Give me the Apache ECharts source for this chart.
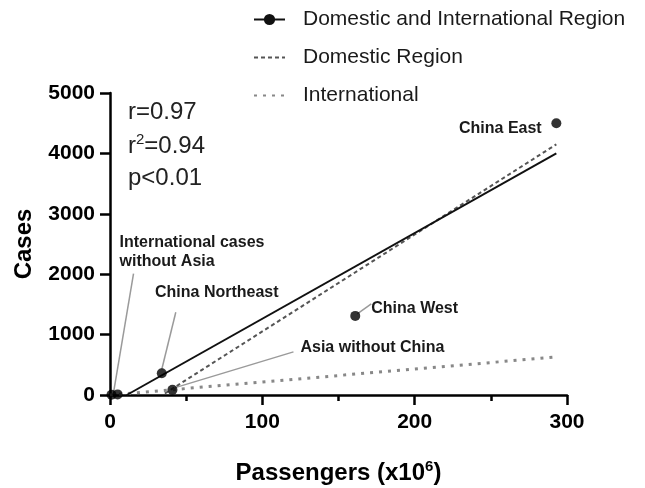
<!DOCTYPE html>
<html><head><meta charset="utf-8">
<script src="https://cdn.jsdelivr.net/npm/echarts@6/dist/echarts.min.js"></script>
<style>html,body{margin:0;background:#fff}#c{width:645px;height:488px}</style></head>
<body><div id="c"></div><script>
// ---- data ----
const xAxisRange=[0,300]; const xStep=100;
const yAxisRange=[0,5000]; const yStep=1000;
const pointNames=['International cases without Asia','International cases without Asia (2)','Asia without China','China Northeast','China West','China East'];
const pointX=[1,5,41,34,161,293];
const pointY=[5,10,85,360,1310,4500];
const allFitX=[11,293]; const allFitY=[0,4000];
const domFitX=[36,293]; const domFitY=[25,4150];
const intFitX=[0,293]; const intFitY=[0,630];
const seriesNames=['Domestic and International Region','Domestic Region','International'];
const statR='0.97', statR2='0.94', statP='0.01';

// ---- layout (pixels relative to each labelled point) ----
const FONT='"Liberation Sans", Arial, Helvetica, sans-serif';
const labelLayout=[
  {idx:5,text:'China East',dx:-56,dy:5,align:'center',leader:null},
  {idx:4,text:'China West',dx:16,dy:-7,align:'left',leader:[2,-2,16,-12]},
  {idx:2,text:'Asia without China',dx:128,dy:-42,align:'left',leader:[2,-2,121,-38]},
  {idx:3,text:'China Northeast',dx:55,dy:-81,align:'center',leader:[0,-4,14,-61]},
  {idx:0,text:'International cases\nwithout Asia',dx:8,dy:-143,align:'left',leader:[2,-2,22,-121]}
];
const pairs=(xs,ys)=>xs.map((x,i)=>[x,ys[i]]);

const chart=echarts.init(document.getElementById('c'),null,{renderer:'canvas'});
const axisCommon={
  axisLine:{lineStyle:{color:'#000',width:2.5}},
  axisTick:{length:10,lineStyle:{color:'#000',width:2.5}},
  splitLine:{show:false},
  axisLabel:{color:'#000',fontWeight:'bold',fontSize:21,fontFamily:FONT,formatter:v=>String(v)},
  nameTextStyle:{color:'#000',fontWeight:'bold',fontSize:24,fontFamily:FONT}
};
chart.setOption({
  animation:false,
  backgroundColor:'#fff',
  grid:{left:110,right:78,top:93,bottom:93,containLabel:false,outerBoundsMode:'none'},
  legend:{
    orient:'vertical',left:248,top:4,itemWidth:31,itemHeight:14,itemGap:17,
    textStyle:{fontSize:21,color:'#1a1a1a',fontFamily:FONT,padding:[0,0,0,13]},
    data:[
      {name:seriesNames[0]},
      {name:seriesNames[1],itemStyle:{opacity:0}},
      {name:seriesNames[2],itemStyle:{opacity:0}}
    ]
  },
  xAxis:Object.assign({},axisCommon,{
    type:'value',min:xAxisRange[0],max:xAxisRange[1],interval:xStep,
    minorTick:{show:true,splitNumber:2,length:6,lineStyle:{color:'#000',width:2.5}},
    axisLabel:Object.assign({},axisCommon.axisLabel,{margin:17}),
    name:'{t|Passengers (x10}{s|6}{t|)}',nameLocation:'middle',nameGap:64,
    nameTextStyle:{rich:{
      t:{fontSize:24,fontWeight:'bold',fontFamily:FONT,color:'#000',lineHeight:28},
      s:{fontSize:15,fontWeight:'bold',fontFamily:FONT,color:'#000',verticalAlign:'top',lineHeight:28,padding:[0,0,12,0]}
    }}
  }),
  yAxis:Object.assign({},axisCommon,{
    type:'value',min:yAxisRange[0],max:yAxisRange[1],interval:yStep,
    axisLabel:Object.assign({},axisCommon.axisLabel,{margin:15}),
    name:'Cases',nameLocation:'middle',nameGap:74,nameRotate:90
  }),
  series:[
    {name:seriesNames[0],type:'line',data:pairs(allFitX,allFitY),showSymbol:false,symbol:'circle',symbolSize:8,
     itemStyle:{color:'#111'},lineStyle:{color:'#111',width:2},z:3},
    {name:seriesNames[1],type:'line',data:pairs(domFitX,domFitY),symbol:'none',
     itemStyle:{color:'#555'},lineStyle:{color:'#555',width:2,type:[4,3]},z:2},
    {name:seriesNames[2],type:'line',data:pairs(intFitX,intFitY),symbol:'none',
     itemStyle:{color:'#888'},lineStyle:{color:'#888',width:3,type:[3,6]},z:2},
    {name:'points',type:'scatter',data:pairs(pointX,pointY),symbolSize:10,itemStyle:{color:'#000'},z:5}
  ]
});

function place(){
  const els=[];
  labelLayout.forEach(l=>{
    const p=chart.convertToPixel({xAxisIndex:0,yAxisIndex:0},[pointX[l.idx],pointY[l.idx]]);
    if(l.leader){
      els.push({type:'line',z:1,shape:{x1:p[0]+l.leader[0],y1:p[1]+l.leader[1],x2:p[0]+l.leader[2],y2:p[1]+l.leader[3]},
        style:{stroke:'#9a9a9a',lineWidth:1.5}});
    }
    els.push({type:'text',z:10,x:p[0]+l.dx,y:p[1]+l.dy,style:{text:l.text,align:l.align,verticalAlign:'middle',
      fontSize:16,fontWeight:'bold',fontFamily:FONT,fill:'#1a1a1a',lineHeight:19}});
  });
  const g=chart.getModel().getComponent('grid').coordinateSystem.getRect();
  const sx=g.x+18, sy=g.y;
  const stFont={fontSize:24,fontFamily:FONT,fill:'#222'};
  els.push({type:'text',x:sx,y:sy+19,style:Object.assign({text:'r='+statR,verticalAlign:'middle'},stFont)});
  els.push({type:'text',x:sx,y:sy+53,style:{text:'{a|r}{b|2}{a|='+statR2+'}',verticalAlign:'middle',
    rich:{a:{fontSize:24,fontFamily:FONT,fill:'#222',color:'#222',lineHeight:28},
          b:{fontSize:15,fontFamily:FONT,fill:'#222',color:'#222',verticalAlign:'top',lineHeight:28,padding:[0,0,12,0]}}}});
  els.push({type:'text',x:sx,y:sy+85,style:Object.assign({text:'p<'+statP,verticalAlign:'middle'},stFont)});
  chart.setOption({graphic:{elements:els}});
}
place();
</script></body></html>
